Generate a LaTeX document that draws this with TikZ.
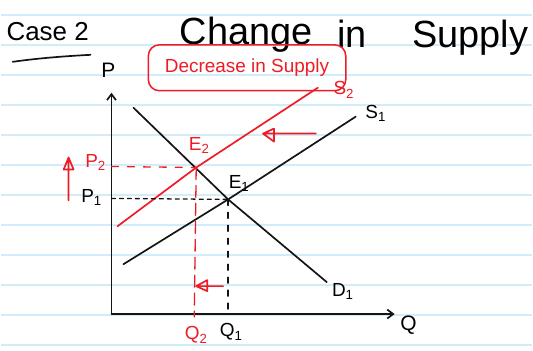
\documentclass[tikz,border=0pt]{standalone}
\usepackage{fontspec}
\setmainfont{Liberation Sans}
\usetikzlibrary{arrows.meta,positioning}
\definecolor{penred}{HTML}{EE1C25}
\definecolor{penblack}{HTML}{141414}
\definecolor{paperline}{HTML}{D2ECFA}

\begin{document}
\begin{tikzpicture}[x=1pt,y=-1pt,
    ink/.style={line width=1.7pt,penblack,line cap=round},
    redink/.style={line width=1.7pt,penred,line cap=round,line join=round},
    lbl/.style={font=\fontsize{19}{21}\selectfont,inner sep=0pt},
    ]
    % paper
    \fill[white] (0,0) rectangle (533,352);
    \foreach \k in {0,...,11}
        \draw[paperline,line width=1.6pt] (0,15+30.1*\k) -- (533,15+30.1*\k);

    % heading
    \node[font=\fontsize{26}{28}\selectfont,inner sep=0pt] (case) at (47,32) {Case 2};
    \draw[ink] (12,62) .. controls (40,58) and (70,56) .. (90,55);
    \node[font=\fontsize{38}{40}\selectfont,inner sep=0pt] (change) at (246,35) {Change};
    \node[font=\fontsize{38}{40}\selectfont,inner sep=0pt] (in) at (352,34) {in};
    \node[font=\fontsize{38}{40}\selectfont,inner sep=0pt] (supply) at (471,38) {Supply};

    % axes
    \coordinate (O) at (111,315);
    \coordinate (ytop) at (111,93);
    \coordinate (xend) at (395,315);
    \draw[ink,-{Straight Barb[length=6pt,width=9pt]}] (O) -- (ytop);
    \draw[ink,-{Straight Barb[length=6pt,width=9pt]}] (O) -- (xend);
    \node[lbl,font=\fontsize{21}{23}\selectfont] (P) at (108,71) {P};
    \node[lbl,font=\fontsize{21}{23}\selectfont] (Q) at (409,326) {Q};

    % equilibria
    \coordinate (E1) at (228,200);
    \coordinate (E2) at (196,168);

    % demand and supply
    \draw[ink] (133,108) -- (E1) -- (327,283);
    \draw[ink] (123,265) -- (E1) -- (356,117);
    \draw[redink] (117,227) -- (E2) -- (318,88);

    \node[lbl] (D1) at (343,292) {D\textsubscript{1}};
    \node[lbl] (S1) at (376,114) {S\textsubscript{1}};
    \node[lbl,text=penred] (S2) at (344,90) {S\textsubscript{2}};
    \node[lbl] (E1l) at (239,184) {E\textsubscript{1}};
    \node[lbl,text=penred] (E2l) at (199,146) {E\textsubscript{2}};

    % guide lines
    \coordinate (P1a) at (111,199);
    \coordinate (P2a) at (111,167);
    \coordinate (Q1a) at (228,315);
    \coordinate (Q2a) at (194,318);
    \draw[ink,line width=1.3pt,dash pattern=on 4pt off 4pt] (P1a) -- (E1);
    \draw[ink,line width=1.3pt,dash pattern=on 6pt off 7pt] (E1) -- (Q1a);
    \draw[redink,line width=1.3pt,dash pattern=on 7pt off 9pt] (P2a) -- (E2);
    \draw[redink,line width=1.3pt,dash pattern=on 12pt off 6pt] (E2) -- (Q2a);

    \node[lbl] (P1) at (91,198) {P\textsubscript{1}};
    \node[lbl,text=penred] (P2) at (95,163) {P\textsubscript{2}};
    \node[lbl] (Q1) at (231,333) {Q\textsubscript{1}};
    \node[lbl,text=penred] (Q2) at (196,336) {Q\textsubscript{2}};

    % shift arrows (open heads drawn by hand)
    \coordinate (pup0) at (68,201);
    \coordinate (pup1) at (68,158);
    \draw[redink] (pup0) -- (pup1) -- ++(-5,12) -- ++(10,0) -- (pup1);
    \coordinate (sleft0) at (316,134);
    \coordinate (sleft1) at (263,134);
    \draw[redink] (sleft0) -- (sleft1) -- ++(11,-5) -- ++(0,13) -- (sleft1);
    \coordinate (qleft0) at (223,287);
    \coordinate (qleft1) at (196,287);
    \draw[redink] (qleft0) -- (qleft1) -- ++(11,-6) -- ++(0,11) -- (qleft1);

    % caption
    \node[font=\fontsize{19}{21}\selectfont,text=penred,draw=penred,line width=1.5pt,
        rounded corners=11pt,minimum width=198pt,minimum height=46pt] (tag) at (247,68)
        {Decrease in Supply};
\end{tikzpicture}
\end{document}
